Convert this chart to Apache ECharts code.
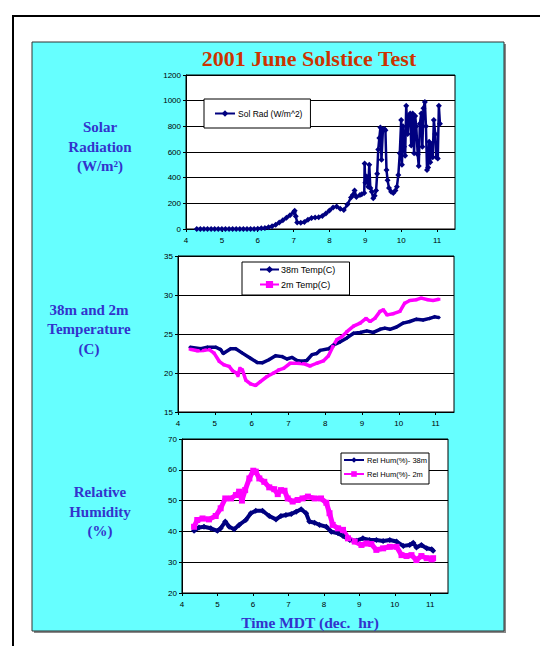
<!DOCTYPE html>
<html>
<head>
<meta charset="utf-8">
<script src="https://cdn.jsdelivr.net/npm/echarts@6/dist/echarts.min.js"></script>
<style>
html,body{margin:0;padding:0;background:#fff;}
#c{width:540px;height:646px;}
</style>
</head>
<body>
<div id="c"></div>
<script>
// ---- Data ----
const xTickValues = [4, 5, 6, 7, 8, 9, 10, 11];

const solarHours = [4.3,4.4,4.5,4.6,4.7,4.8,4.9,5.0,5.1,5.2,5.3,5.4,5.5,5.6,5.7,5.8,5.9,6.0,6.1,6.2,6.3,6.4,6.5,6.6,6.7,6.8,6.9,7.0,7.03,7.06,7.1,7.2,7.3,7.4,7.5,7.6,7.7,7.8,7.9,8.0,8.1,8.2,8.3,8.4,8.5,8.6,8.65,8.7,8.75,8.85,8.9,8.97,8.98,9.0,9.04,9.08,9.11,9.14,9.18,9.22,9.26,9.3,9.33,9.36,9.39,9.42,9.45,9.49,9.53,9.56,9.59,9.62,9.66,9.72,9.78,9.84,9.88,9.92,9.96,10.0,10.02,10.05,10.08,10.11,10.14,10.18,10.21,10.25,10.28,10.32,10.36,10.39,10.42,10.46,10.49,10.52,10.56,10.59,10.62,10.66,10.69,10.72,10.75,10.78,10.81,10.84,10.88,10.91,10.95,10.98,11.02,11.05,11.08];
const solarValues = [0,0,0,0,0,0,0,0,0,0,0,0,0,0,0,0,0,2,5,8,14,22,34,50,68,88,108,130,142,100,50,48,55,72,85,90,92,102,120,145,168,176,158,148,190,245,265,300,250,265,270,280,510,360,410,330,500,320,290,240,260,300,430,620,710,790,540,770,780,770,460,380,320,290,280,300,330,420,590,850,500,800,640,570,960,740,880,900,650,900,590,880,800,580,490,820,900,640,940,990,800,460,480,680,520,660,560,850,740,560,550,960,820];

const temp38Hours = [4.33,4.62,4.80,5.03,5.16,5.23,5.43,5.57,5.75,5.97,6.15,6.29,6.47,6.65,6.83,6.96,7.10,7.23,7.37,7.50,7.64,7.77,7.86,8.09,8.23,8.41,8.59,8.77,8.95,9.13,9.31,9.49,9.62,9.76,9.94,10.12,10.30,10.48,10.66,10.84,10.97,11.09];
const temp38 = [23.3,23.1,23.3,23.3,23.0,22.5,23.1,23.1,22.55,21.9,21.35,21.3,21.7,22.2,22.1,21.8,22.0,21.6,21.5,21.6,22.35,22.5,22.9,23.1,23.6,24.0,24.5,25.1,25.2,25.4,25.2,25.6,25.75,25.6,25.9,26.4,26.6,26.9,26.8,27.0,27.2,27.1];

const temp2Hours = [4.33,4.53,4.71,4.85,4.98,5.12,5.25,5.39,5.48,5.59,5.63,5.68,5.75,5.84,5.97,6.11,6.24,6.42,6.60,6.74,6.87,7.05,7.23,7.41,7.59,7.77,7.95,8.09,8.21,8.32,8.45,8.59,8.77,8.95,9.11,9.22,9.35,9.49,9.58,9.68,9.85,10.03,10.16,10.30,10.48,10.61,10.79,10.93,11.09];
const temp2 = [23.05,22.85,22.9,23.0,22.55,21.5,21.05,20.85,20.3,20.0,19.65,20.6,20.4,19.1,18.6,18.4,18.9,19.55,20.0,20.4,20.6,21.25,21.25,21.2,20.9,21.25,21.55,22.2,23.4,24.3,24.65,25.3,26.0,26.4,27.0,26.6,27.0,27.9,28.1,27.45,27.6,27.9,28.95,29.3,29.4,29.6,29.4,29.3,29.45];

const hum38Hours = [4.34,4.48,4.62,4.81,5.0,5.09,5.22,5.33,5.47,5.61,5.80,5.94,6.08,6.27,6.46,6.65,6.79,6.93,7.08,7.22,7.36,7.50,7.59,7.74,7.88,8.07,8.21,8.40,8.54,8.73,8.92,9.10,9.29,9.48,9.67,9.86,10.05,10.24,10.42,10.52,10.61,10.75,10.90,11.04,11.08];
const hum38 = [40.2,41.3,41.5,41.0,40.2,41.0,43.2,41.5,40.7,42.1,43.7,45.9,46.7,46.7,45.0,43.9,45.0,45.3,45.65,46.4,47.2,45.9,43.2,42.8,42.1,41.5,39.9,39.4,38.5,37.2,37.0,37.75,37.2,37.2,36.9,37.2,36.7,35.3,35.6,36.3,34.8,35.6,34.5,34.2,33.7];

const hum2Hours = [4.34,4.43,4.58,4.76,4.95,5.09,5.22,5.38,5.52,5.61,5.69,5.78,5.90,6.01,6.08,6.18,6.32,6.46,6.60,6.70,6.79,6.89,6.98,7.12,7.26,7.40,7.55,7.74,7.92,8.07,8.16,8.25,8.40,8.54,8.68,8.87,9.06,9.20,9.34,9.48,9.67,9.86,10.05,10.19,10.33,10.47,10.61,10.75,10.90,11.04,11.08];
const hum2 = [41.5,43.7,44.2,43.9,45.0,47.5,50.7,50.7,51.8,52.9,50.0,53.4,57.2,59.7,59.4,57.2,56.1,54.3,53.7,52.1,53.4,53.2,50.7,49.7,50.2,50.7,51.3,50.7,50.7,49.3,45.9,42.1,41.0,40.5,37.75,36.7,35.6,36.1,35.9,34.0,34.5,35.0,35.0,32.3,32.0,32.3,30.7,32.0,31.3,30.9,31.3];

const seriesNames = ['Sol Rad (W/m^2)', '38m Temp(C)', '2m Temp(C)', 'Rel Hum(%)- 38m', 'Rel Hum(%)- 2m'];

// ---- Chart ----
function pairs(h, v) { return h.map((x, i) => [x, v[i]]); }
const NAVY = '#000080', MAG = '#ff00ff';
const AXFONT = 'Liberation Sans, Arial, sans-serif';

function mkX(gi) {
  return {
    type: 'value', gridIndex: gi, min: 4, max: 11.5, interval: 1,
    axisLine: { show: true, lineStyle: { color: '#000', width: 1 } },
    axisTick: { show: true, length: 3, lineStyle: { color: '#000' }, customValues: xTickValues },
    axisLabel: { customValues: xTickValues, fontSize: 8, color: '#000', margin: 7, fontFamily: AXFONT,
      formatter: function (v) { return String(v); } },
    splitLine: { show: false }
  };
}
function mkY(gi, min, max, interval) {
  return {
    type: 'value', gridIndex: gi, min: min, max: max, interval: interval,
    axisLine: { show: true, lineStyle: { color: '#000', width: 1 } },
    axisTick: { show: true, length: 3, lineStyle: { color: '#000' } },
    axisLabel: { fontSize: 8, color: '#000', margin: 5, fontFamily: AXFONT,
      formatter: function (v) { return String(v); } },
    splitLine: { show: true, lineStyle: { color: '#000', width: 1 } }
  };
}
function gridBox(left, top, width, height) {
  return { left: left, top: top, width: width, height: height, show: true,
    backgroundColor: '#fff', borderColor: '#000', borderWidth: 1, containLabel: false };
}
function txt(text, x, y, size, color) {
  return { type: 'text', z: 5, style: { text: text, x: x, y: y, fill: color,
    font: 'bold ' + size + 'px "Liberation Serif", "Times New Roman", serif',
    textAlign: 'center', textVerticalAlign: 'middle' } };
}
const BLUE = '#3333cc';

const option = {
  animation: false,
  backgroundColor: '#fff',
  graphic: [
    { type: 'rect', z: -3, shape: { x: 13, y: 16, width: 700, height: 800 }, style: { fill: 'none', stroke: '#000', lineWidth: 2 } },
    { type: 'rect', z: -2, shape: { x: 34, y: 44, width: 472, height: 589 }, style: { fill: '#888' } },
    { type: 'rect', z: -1, shape: { x: 32, y: 42, width: 472, height: 589 }, style: { fill: '#66ffff', stroke: '#333', lineWidth: 1 } },
    txt('2001 June Solstice Test', 309, 58, 22, '#cc3300'),
    txt('Solar', 100, 127, 15, BLUE),
    txt('Radiation', 100, 147, 15, BLUE),
    txt('(W/m²)', 100, 166, 15, BLUE),
    txt('38m and 2m', 89, 310, 15, BLUE),
    txt('Temperature', 89, 329, 15, BLUE),
    txt('(C)', 89, 349, 15, BLUE),
    txt('Relative', 100, 492, 15, BLUE),
    txt('Humidity', 100, 512, 15, BLUE),
    txt('(%)', 100, 531, 15, BLUE),
    txt('Time MDT (dec.  hr)', 310, 622, 15.5, BLUE)
  ],
  grid: [
    gridBox(186, 75, 269, 154),
    gridBox(178, 256, 276, 156),
    gridBox(182, 439, 266, 154)
  ],
  xAxis: [mkX(0), mkX(1), mkX(2)],
  yAxis: [mkY(0, 0, 1200, 200), mkY(1, 15, 35, 5), mkY(2, 20, 70, 10)],
  legend: [
    { data: [seriesNames[0]], left: 204, top: 99, orient: 'vertical',
      padding: [10, 8, 10, 10], itemWidth: 20, itemHeight: 8, itemGap: 4,
      backgroundColor: '#fff', borderColor: '#000', borderWidth: 1, borderRadius: 0,
      textStyle: { fontSize: 8.5, color: '#000', fontFamily: AXFONT, padding: [0, 0, 0, -2] } },
    { data: [seriesNames[1], seriesNames[2]], left: 242, top: 262, orient: 'vertical',
      padding: [3, 14, 6, 17], itemWidth: 19, itemHeight: 9, itemGap: 6,
      backgroundColor: '#fff', borderColor: '#000', borderWidth: 1, borderRadius: 0,
      textStyle: { fontSize: 9, color: '#000', fontFamily: AXFONT, padding: [0, 0, 0, -3] } },
    { data: [seriesNames[3], seriesNames[4]], left: 341, top: 453, orient: 'vertical',
      padding: [3, 2, 6, 2], itemWidth: 20, itemHeight: 7, itemGap: 6,
      backgroundColor: '#fff', borderColor: '#000', borderWidth: 1, borderRadius: 0,
      textStyle: { fontSize: 7.5, color: '#000', fontFamily: AXFONT, padding: [0, 0, 0, -2] } }
  ],
  series: [
    { name: seriesNames[0], type: 'line', xAxisIndex: 0, yAxisIndex: 0, data: pairs(solarHours, solarValues),
      symbol: 'diamond', symbolSize: 6, showAllSymbol: true, color: NAVY,
      lineStyle: { color: NAVY, width: 2.5 }, itemStyle: { color: NAVY } },
    { name: seriesNames[1], type: 'line', xAxisIndex: 1, yAxisIndex: 1, data: pairs(temp38Hours, temp38),
      symbol: 'diamond', symbolSize: 4, showAllSymbol: true, color: NAVY,
      lineStyle: { color: NAVY, width: 3.5 }, itemStyle: { color: NAVY } },
    { name: seriesNames[2], type: 'line', xAxisIndex: 1, yAxisIndex: 1, data: pairs(temp2Hours, temp2),
      symbol: 'rect', symbolSize: 3, showAllSymbol: true, color: MAG,
      lineStyle: { color: MAG, width: 3.5 }, itemStyle: { color: MAG } },
    { name: seriesNames[3], type: 'line', xAxisIndex: 2, yAxisIndex: 2, data: pairs(hum38Hours, hum38),
      symbol: 'diamond', symbolSize: 6, showAllSymbol: true, color: NAVY,
      lineStyle: { color: NAVY, width: 4 }, itemStyle: { color: NAVY } },
    { name: seriesNames[4], type: 'line', xAxisIndex: 2, yAxisIndex: 2, data: pairs(hum2Hours, hum2),
      symbol: 'rect', symbolSize: 6, showAllSymbol: true, color: MAG,
      lineStyle: { color: MAG, width: 5 }, itemStyle: { color: MAG } }
  ]
};

const chart = echarts.init(document.getElementById('c'), null, { renderer: 'svg', width: 540, height: 646 });
chart.setOption(option);
</script>
</body>
</html>
